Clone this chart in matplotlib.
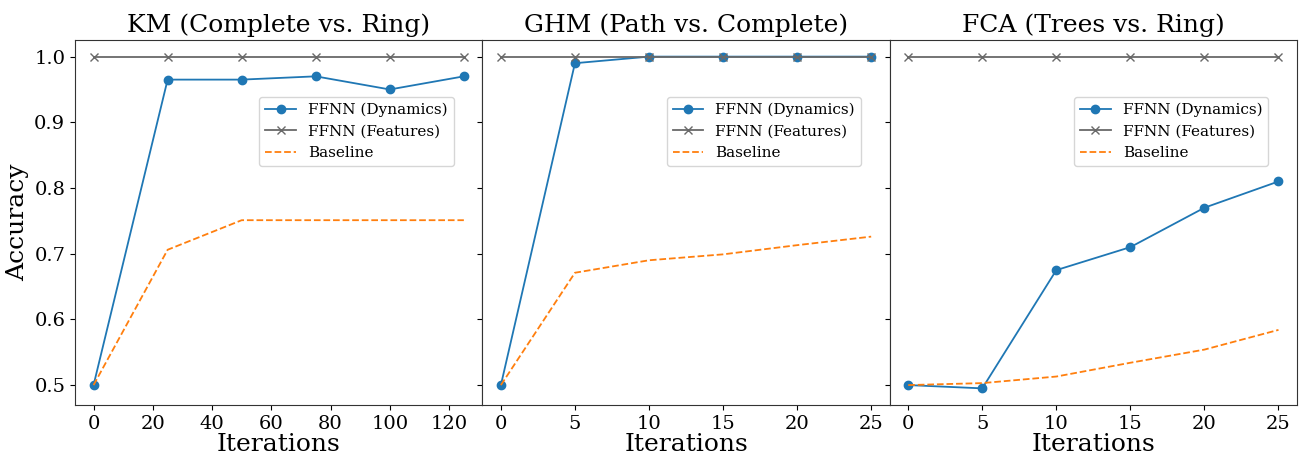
import matplotlib
matplotlib.use("Agg")
import matplotlib.pyplot as plt

plt.rcParams['font.family'] = ['DejaVu Serif']

titles = ["KM (Complete vs. Ring)", "GHM (Path vs. Complete)", "FCA (Trees vs. Ring)"]

km_x = [0, 25, 50, 75, 100, 125]
km_dyn = [0.5, 0.965, 0.965, 0.97, 0.95, 0.97]
km_feat = [1.0, 1.0, 1.0, 1.0, 1.0, 1.0]
km_base = [0.5, 0.706, 0.751, 0.751, 0.751, 0.751]

ghm_x = [0, 5, 10, 15, 20, 25]
ghm_dyn = [0.5, 0.99, 1.0, 1.0, 1.0, 1.0]
ghm_feat = [1.0, 1.0, 1.0, 1.0, 1.0, 1.0]
ghm_base = [0.5, 0.671, 0.690, 0.699, 0.713, 0.726]

fca_x = [0, 5, 10, 15, 20, 25]
fca_dyn = [0.5, 0.495, 0.675, 0.71, 0.77, 0.81]
fca_feat = [1.0, 1.0, 1.0, 1.0, 1.0, 1.0]
fca_base = [0.5, 0.503, 0.513, 0.534, 0.554, 0.584]

panels = [
    (km_x, km_dyn, km_feat, km_base),
    (ghm_x, ghm_dyn, ghm_feat, ghm_base),
    (fca_x, fca_dyn, fca_feat, fca_base),
]

fig, axes = plt.subplots(1, 3, figsize=(13.03, 4.55), dpi=100, sharey=True)
fig.subplots_adjust(left=0.0576, right=0.9954, top=0.912, bottom=0.11, wspace=0.0)

for ax, title, (x, dyn, feat, base) in zip(axes, titles, panels):
    ax.plot(x, dyn, marker='o', color='#1f77b4', markersize=6, linewidth=1.3, label='FFNN (Dynamics)')
    ax.plot(x, feat, marker='x', color='dimgray', markersize=6, linewidth=1.3, label='FFNN (Features)')
    ax.plot(x, base, linestyle='--', color='#ff7f0e', linewidth=1.3, label='Baseline')
    ax.set_title(title, fontsize=18)
    ax.set_xlabel('Iterations', fontsize=18, labelpad=0)
    ax.set_xticks(x if ax is not axes[0] else [0, 20, 40, 60, 80, 100, 120])
    ax.tick_params(labelsize=14)
    ax.legend(loc='upper right', bbox_to_anchor=(0.93, 0.845), borderaxespad=0,
              fontsize=11)
    for s in ax.spines.values():
        s.set_color('#333333')

axes[0].set_ylabel('Accuracy', fontsize=18)
axes[0].set_yticks([0.5, 0.6, 0.7, 0.8, 0.9, 1.0])

fig.savefig('out.png', dpi=100)
